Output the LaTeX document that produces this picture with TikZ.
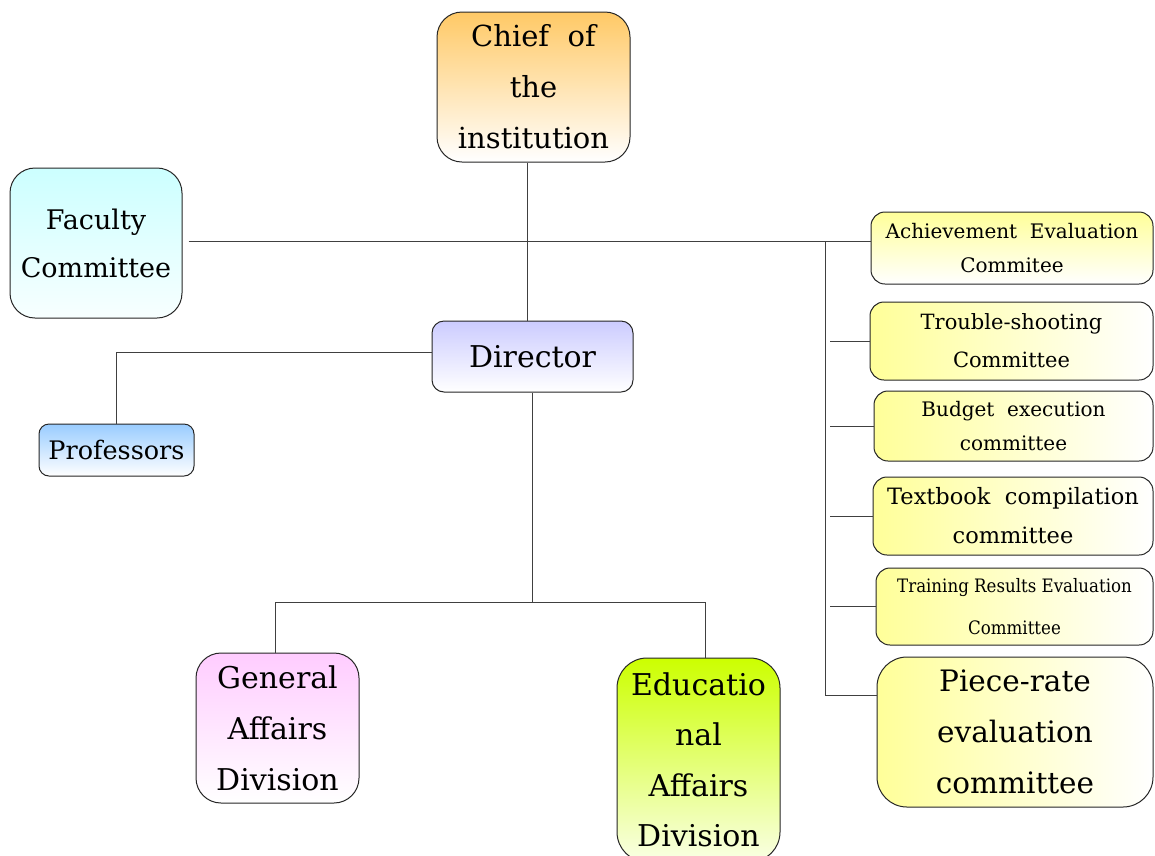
\documentclass[tikz,border=0pt]{standalone}
\usepackage{fontspec}
\setmainfont{DejaVu Serif}
\newfontfamily\condfont{DejaVu Serif Condensed}
\usepackage{xcolor}
\usepackage{tikz}

\definecolor{chiefOrange}{HTML}{FFC966}
\definecolor{facultyCyan}{HTML}{CCFFFF}
\definecolor{directorBlue}{HTML}{CCCCFF}
\definecolor{profBlue}{HTML}{99CCFF}
\definecolor{generalPink}{HTML}{FFCCFF}
\definecolor{eduGreen}{HTML}{CCFF00}
\definecolor{commYellow}{HTML}{FFFF99}

\begin{document}
\begin{tikzpicture}[
    x=1pt, y=-1pt,
    box/.style={rectangle, draw=black!85, line width=1pt, inner sep=0pt, align=center},
    unitbox/.style={box, rounded corners=25pt, minimum width=163pt, minimum height=150pt, font=\fontsize{30}{51}\selectfont},
    commbox/.style={box, rounded corners=14pt, left color=commYellow, right color=white},
    link/.style={draw=black!75, line width=1pt}
]
\useasboundingbox (0,0) rectangle (1155,855);

% Top of the chart
\node[box, rounded corners=25pt, minimum width=193pt, minimum height=150pt, top color=chiefOrange, bottom color=white, font=\fontsize{29}{51}\selectfont] (chief) at (533.5,87) {Chief\ \ of\\the\\institution};
\node[box, rounded corners=25pt, minimum width=172pt, minimum height=150pt, top color=facultyCyan, bottom color=facultyCyan!15, font=\fontsize{27}{48}\selectfont] (faculty) at (96,243) {Faculty\\Committee};
\node[box, rounded corners=12pt, minimum width=201pt, minimum height=71pt, top color=directorBlue, bottom color=white, font=\fontsize{30}{36}\selectfont] (director) at (532.5,356.5) {Director};
\node[box, rounded corners=10pt, minimum width=155pt, minimum height=52pt, top color=profBlue, bottom color=white, font=\fontsize{25.5}{30}\selectfont] (profs) at (116.5,450) {Professors};

% Divisions
\node[unitbox, top color=generalPink, bottom color=white] (general) at (277.5,728) {General\\Affairs\\Division};
\node[unitbox, rounded corners=30pt, minimum height=204pt, top color=eduGreen, bottom color=eduGreen!10, font=\fontsize{30}{50.5}\selectfont] (edu) at (698.5,760) {Educatio\\nal\\Affairs\\Division};

% Committees on the right
\node[box, rounded corners=14pt, minimum width=282pt, minimum height=72pt, top color=commYellow, bottom color=white, font=\fontsize{20}{34}\selectfont] (achieve) at (1012,248) {Achievement\ \ Evaluation\\Commitee};
\node[commbox, minimum width=283pt, minimum height=78pt, font=\fontsize{21}{38}\selectfont] (trouble) at (1011.5,341) {Trouble-shooting\\Committee};
\node[commbox, minimum width=279pt, minimum height=70pt, font=\fontsize{20}{34}\selectfont] (budget) at (1013.5,426) {Budget\ \ execution\\committee};
\node[commbox, minimum width=280pt, minimum height=78pt, font=\fontsize{22.5}{39}\selectfont] (textbook) at (1013,516) {Textbook\ \ compilation\\committee};
\node[commbox, minimum width=277pt, minimum height=77pt, font=\condfont\fontsize{18.5}{42}\selectfont] (training) at (1014.5,606.5) {Training Results Evaluation\\Committee};
\node[commbox, rounded corners=30pt, minimum width=276pt, minimum height=150pt, font=\fontsize{29.5}{51}\selectfont] (piece) at (1015,732) {Piece-rate\\evaluation\\committee};

% Junction points
\coordinate (rtop) at (825,241);
\coordinate (rbot) at (825,695);
\coordinate (rstub) at (830,0);
\coordinate (busL) at (275,602);
\coordinate (busR) at (705,602);
\coordinate (bus) at (529,602);

% Chief down to Director
\draw[link] ([xshift=-6pt]chief.south) -- ([xshift=-6pt]chief.south |- director.north);

% Faculty line across to the committees
\draw[link] ([xshift=6pt]faculty.east |- rtop) -- (achieve.west |- rtop);
\draw[link] (rtop) -- (rbot) -- (rbot -| piece.west);
\foreach \c in {trouble,budget,textbook,training}
    \draw[link] (\c.west -| rstub) -- (\c.west);

% Director to Professors
\draw[link] ([yshift=4pt]director.west) -- ([yshift=4pt]director.west -| profs.north) -- (profs.north);

% Director to the divisions
\draw[link] (director.south) -- (director.south |- bus);
\draw[link] (busL) -- (busR);
\draw[link] (busL) -- (busL |- general.north);
\draw[link] (busR) -- (busR |- edu.north);

\end{tikzpicture}
\end{document}
